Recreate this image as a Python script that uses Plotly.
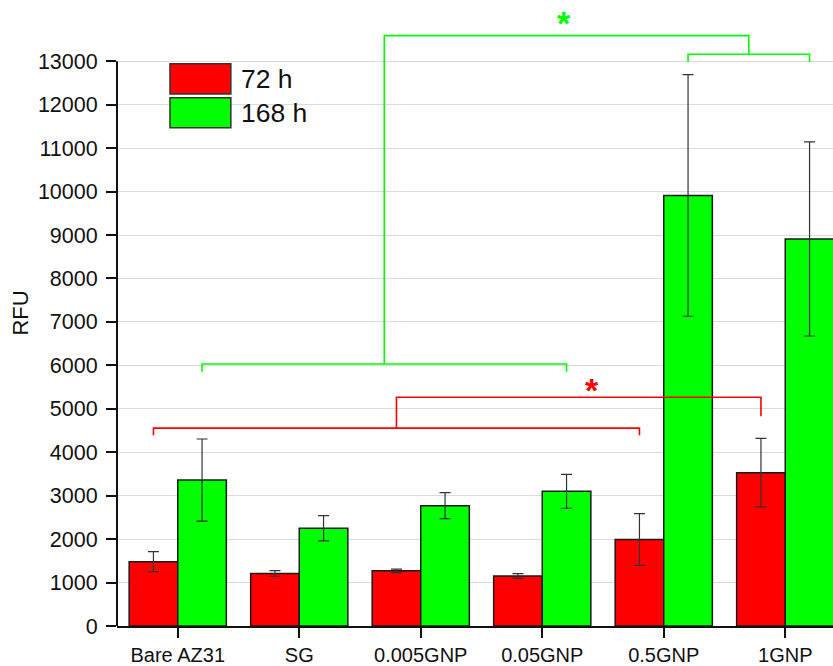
import plotly.graph_objects as go

# Sample groups and fluorescence readings (RFU) with standard deviations
categories = ["Bare AZ31", "SG", "0.005GNP", "0.05GNP", "0.5GNP", "1GNP"]
rfu_72h = [1480, 1210, 1270, 1150, 1990, 3530]
err_72h = [230, 65, 40, 55, 595, 790]
rfu_168h = [3360, 2250, 2770, 3100, 9910, 8910]
err_168h = [945, 290, 300, 390, 2780, 2235]
series_names = ["72 h", "168 h"]
y_ticks = list(range(0, 13001, 1000))

RED = "#ff0000"
GREEN = "#00ff00"
FONT = "Liberation Sans, Arial, sans-serif"

x_idx = list(range(len(categories)))
fig = go.Figure()
for name, vals, errs, col in [(series_names[0], rfu_72h, err_72h, RED),
                              (series_names[1], rfu_168h, err_168h, GREEN)]:
    fig.add_trace(go.Bar(
        x=x_idx, y=vals, name=name, showlegend=False,
        marker=dict(color=col, line=dict(color="#1a1a1a", width=1.5)),
        error_y=dict(type="data", array=errs, visible=True,
                     color="#333333", thickness=1.2, width=5.5),
    ))

# bar centre offsets inside each group (two bars, bargap 0.2)
OFF = 0.2


def bracket(x0, x1, y, drop_l, drop_r, color):
    """Square bracket: horizontal bar at y with legs hanging down."""
    pts = []
    if drop_l is not None:
        pts.append((x0, drop_l))
    pts.append((x0, y))
    pts.append((x1, y))
    if drop_r is not None:
        pts.append((x1, drop_r))
    path = "M " + " L ".join(f"{px},{py}" for px, py in pts)
    fig.add_shape(type="path", path=path, xref="x", yref="y",
                  line=dict(color=color, width=1.6), layer="above")


# green (168 h) comparison: group {Bare..0.05GNP} vs {0.5GNP, 1GNP}
g_low = [0 + OFF, 3 + OFF]
g_high = [4 + OFF, 5 + OFF]
g_low_mid = sum(g_low) / 2
g_high_mid = sum(g_high) / 2
bracket(g_low[0], g_low[1], 6030, 5850, 5850, GREEN)
bracket(g_high[0], g_high[1], 13160, 12980, 12980, GREEN)
bracket(g_low_mid, g_high_mid, 13590, 6030, 13160, GREEN)

# red (72 h) comparison: group {Bare..0.5GNP} vs {1GNP}
r_low = [0 - OFF, 4 - OFF]
r_low_mid = sum(r_low) / 2
r_high = 5 - OFF
bracket(r_low[0], r_low[1], 4555, 4390, 4390, RED)
bracket(r_low_mid, r_high, 5265, 4555, 4830, RED)

fig.add_annotation(x=(g_low_mid + g_high_mid) / 2 - 0.02, y=13890, text="<b>*</b>",
                   showarrow=False, xref="x", yref="y",
                   font=dict(family=FONT, size=34, color=GREEN), yanchor="middle")
fig.add_annotation(x=(r_low_mid + r_high) / 2 + 0.11, y=5440, text="<b>*</b>",
                   showarrow=False, xref="x", yref="y",
                   font=dict(family=FONT, size=34, color=RED), yanchor="middle")

# left axis line, running only up to the top tick
fig.add_shape(type="line", xref="paper", yref="y", x0=0, x1=0, y0=0, y1=y_ticks[-1],
              line=dict(color="#111111", width=2), layer="above")

# legend drawn as large swatches
legend_rows = [(series_names[0], RED, 0.898, 0.850), (series_names[1], GREEN, 0.844, 0.796)]
for label, col, top, bot in legend_rows:
    fig.add_shape(type="rect", xref="paper", yref="paper", x0=0.074, x1=0.159,
                  y0=bot, y1=top, fillcolor=col,
                  line=dict(color="#333333", width=1.5), layer="above")
    fig.add_annotation(xref="paper", yref="paper", x=0.170, y=(top + bot) / 2,
                       text=label, showarrow=False, xanchor="left", yanchor="middle",
                       font=dict(family=FONT, size=26.5, color="#111111"))

fig.update_layout(
    width=833, height=666,
    margin=dict(l=117, r=0, t=0, b=38, pad=0),
    paper_bgcolor="white", plot_bgcolor="white",
    barmode="group", bargap=0.2, bargroupgap=0,
    font=dict(family=FONT, color="#111111"),
)
fig.update_xaxes(
    range=[-0.5, 5.393], tickmode="array", tickvals=x_idx, ticktext=categories,
    showline=True, linecolor="#111111", linewidth=2,
    ticks="outside", ticklen=10, tickwidth=2, tickcolor="#111111",
    tickfont=dict(family=FONT, size=20, color="#111111"),
    showgrid=False, zeroline=False,
)
fig.update_yaxes(
    range=[0, 14410], tickmode="array", tickvals=y_ticks,
    ticktext=[str(v) for v in y_ticks],
    showline=False,
    ticks="outside", ticklen=10, tickwidth=2, tickcolor="#111111",
    ticklabelstandoff=4,
    tickfont=dict(family=FONT, size=21.5, color="#111111"),
    showgrid=True, gridcolor="#dcdcdc", gridwidth=1.2, zeroline=False,
    title=dict(text="RFU", font=dict(family=FONT, size=22, color="#111111"), standoff=3),
)

fig.write_html("out.html")
